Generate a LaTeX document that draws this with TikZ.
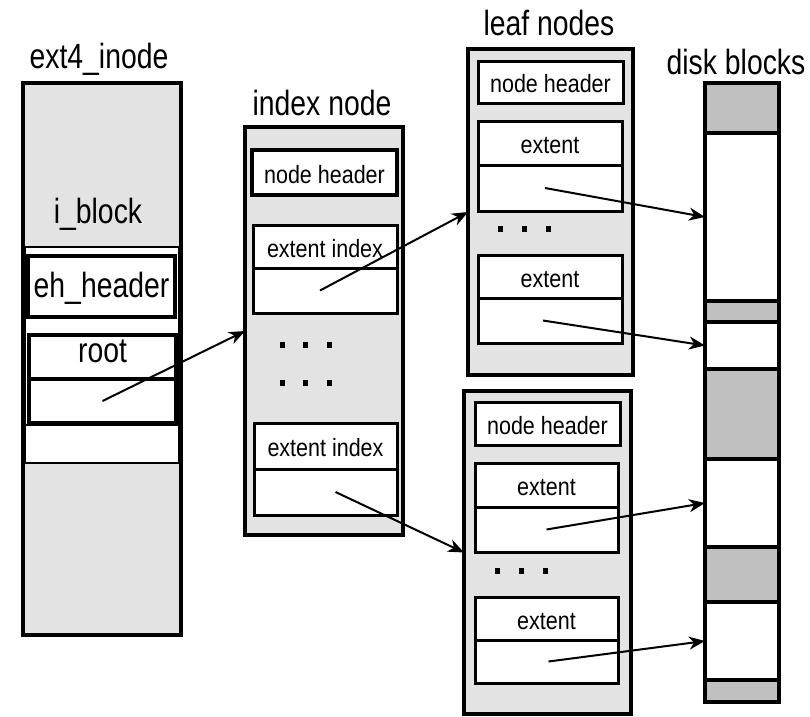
\documentclass[tikz,border=0pt]{standalone}
\usepackage{fontspec}
\newfontfamily\bigfont[FakeStretch=0.81]{Liberation Sans}
\newfontfamily\smallfont[FakeStretch=0.86]{Liberation Sans}
\usetikzlibrary{arrows.meta}
\definecolor{boxgray}{HTML}{E3E3E3}
\definecolor{diskgray}{HTML}{C0C0C0}
\tikzset{
  frame/.style={draw, line width=4pt, fill=boxgray, inner sep=0pt, outer sep=0pt},
  cell/.style={draw, line width=3pt, fill=white, inner sep=0pt, outer sep=0pt,
    font=\smallfont\fontsize{25}{25}\selectfont, text height=21pt, text depth=0pt},
  bigtext/.style={font=\bigfont\fontsize{35}{35}\selectfont},
  title/.style={bigtext, anchor=base, inner sep=0pt},
  blk/.style={draw, line width=3.5pt, inner sep=0pt, outer sep=0pt, minimum width=74pt},
  ptr/.style={->, line width=2pt},
}
\begin{document}
\begin{tikzpicture}[x=1pt,y=-1pt,>={Stealth[length=16pt,width=13pt,inset=5pt]}]
\useasboundingbox (0,0) rectangle (810,716);
% titles
\node[title] (TIn) at (99,68) {ext4\_inode};
\node[title] (TIx) at (322,115) {index node};
\node[title] (TL) at (549,35) {leaf nodes};
\node[title] (TD) at (736,74) {disk blocks};

% ext4_inode
\node[frame,minimum width=158pt,minimum height=552pt] (In) at (102,359) {};
\draw[line width=2pt,fill=white] (25,247) rectangle (179,463);
\draw[line width=2pt] (25,425) -- (179,425);
\node[title] (Ib) at (98,223) {i\_block};
\node[cell,bigtext,line width=3.5pt,minimum width=147pt,minimum height=61pt] (Eh) at (101.5,286.5) {eh\_header};
\node[cell,bigtext,text height=10pt,line width=3.5pt,minimum width=147pt,minimum height=44pt] (Ro) at (102.5,357) {root};
\node[cell,line width=3.5pt,minimum width=147pt,minimum height=44pt] (RoP) at (102.5,401) {};

% index node
\node[frame,minimum width=158pt,minimum height=408pt] (Ix) at (324,331) {};
\node[cell,line width=3.5pt,minimum width=145pt,minimum height=45pt] (IxH) at (324.5,172.5) {node header};
\node[cell,minimum width=144pt,minimum height=43pt] (IxA) at (325,246.5) {extent index};
\node[cell,minimum width=144pt,minimum height=45pt] (IxAP) at (325,290.5) {};
\node[cell,minimum width=143pt,minimum height=46pt] (IxB) at (325.5,446) {extent index};
\node[cell,minimum width=143pt,minimum height=46pt] (IxBP) at (325.5,492) {};
\fill (280,342) rectangle (285,348);
\fill (303,342) rectangle (308,348);
\fill (327,342) rectangle (332,348);
\fill (280,380) rectangle (285,386);
\fill (303,380) rectangle (308,386);
\fill (327,380) rectangle (332,386);

% leaf nodes
\node[frame,minimum width=165pt,minimum height=326pt] (L1) at (550.5,212) {};
\node[cell,minimum width=145pt,minimum height=42pt] (L1H) at (550.5,82) {node header};
\node[cell,minimum width=144pt,minimum height=44pt] (L1A) at (550,143) {extent};
\node[cell,minimum width=144pt,minimum height=46pt] (L1AP) at (550,188) {};
\node[cell,minimum width=144pt,minimum height=43pt] (L1B) at (550,276.5) {extent};
\node[cell,minimum width=144pt,minimum height=45pt] (L1BP) at (550,320.5) {};
\fill (498,226) rectangle (503,232);
\fill (522,226) rectangle (527,232);
\fill (546,226) rectangle (551,232);

\node[frame,minimum width=167pt,minimum height=323pt] (L2) at (547.5,552.5) {};
\node[cell,minimum width=145pt,minimum height=43pt] (L2H) at (547.5,423.5) {node header};
\node[cell,minimum width=143pt,minimum height=44pt] (L2A) at (546.5,485) {extent};
\node[cell,minimum width=143pt,minimum height=45pt] (L2AP) at (546.5,529.5) {};
\node[cell,minimum width=143pt,minimum height=43pt] (L2B) at (546.5,618.5) {extent};
\node[cell,minimum width=143pt,minimum height=43pt] (L2BP) at (546.5,661.5) {};
\fill (495,568) rectangle (500,574);
\fill (519,568) rectangle (524,574);
\fill (543,568) rectangle (548,574);

% disk blocks
\node[blk,fill=diskgray,minimum height=50pt] (D1) at (742,108) {};
\node[blk,fill=white,minimum height=168pt] (D2) at (742,217) {};
\node[blk,fill=diskgray,minimum height=21pt] (D3) at (742,311.5) {};
\node[blk,fill=white,minimum height=47pt] (D4) at (742,345.5) {};
\node[blk,fill=diskgray,minimum height=90pt] (D5) at (742,414) {};
\node[blk,fill=white,minimum height=88pt] (D6) at (742,503) {};
\node[blk,fill=diskgray,minimum height=55pt] (D7) at (742,574.5) {};
\node[blk,fill=white,minimum height=78pt] (D8) at (742,641) {};
\node[blk,fill=diskgray,minimum height=22pt] (D9) at (742,691) {};

\draw[ptr] (RoP.center) -- (Ix.west);
\draw[ptr] ([xshift=-5pt]IxAP.center) -- (L1.west);
\draw[ptr] ([xshift=10pt]IxBP.center) -- (L2.west);
\draw[ptr] ([xshift=-5pt]L1AP.center) -- (D2.west);
\draw[ptr] ([xshift=-7pt]L1BP.center) -- (D4.west);
\draw[ptr] (L2AP.center) -- (D6.west);
\draw[ptr] ([xshift=2pt]L2BP.center) -- (D8.west);
\end{tikzpicture}
\end{document}
